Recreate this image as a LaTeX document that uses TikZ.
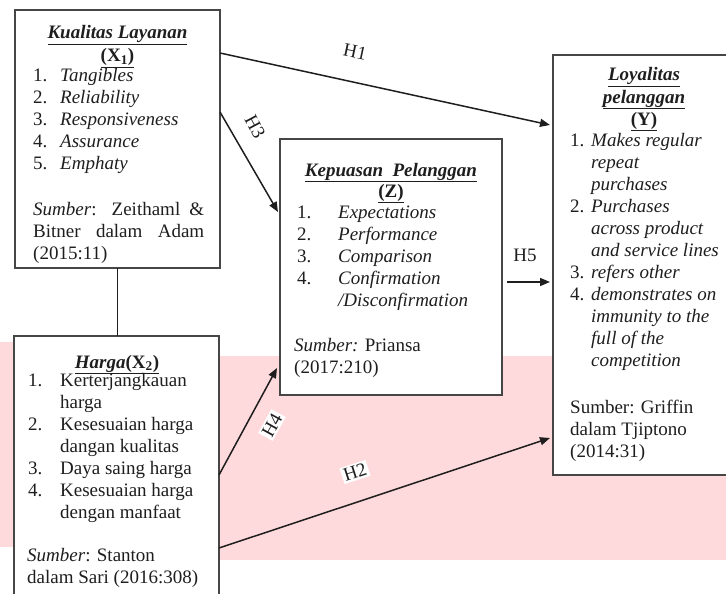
\documentclass[tikz,border=0pt]{standalone}
\usepackage{fontspec}
\setmainfont{Liberation Serif}
\usetikzlibrary{calc,arrows.meta}
\definecolor{pinkbg}{RGB}{255,218,221}
\definecolor{boxline}{RGB}{70,70,70}
\definecolor{ink}{RGB}{30,30,30}
\newcommand{\nm}[2]{\makebox[#1][l]{#2}}
\begin{document}
\begin{tikzpicture}[x=1pt,y=-1pt,
  box/.style={draw=boxline, fill=white, line width=1.4pt, inner sep=0pt, outer sep=0pt},
  txt/.style={font=\fontsize{19}{22}\selectfont, inner sep=0pt, text=ink, align=left, anchor=base west},
  ttl/.style={font=\fontsize{19}{22}\selectfont, inner sep=0pt, text=ink, anchor=base},
  conn/.style={line width=1.5pt, draw=ink, -{Triangle[length=10pt,width=8pt]}},
  plain/.style={line width=1.5pt, draw=ink},
  hlab/.style={font=\fontsize{19}{22}\selectfont, fill=white, inner sep=2pt, text=ink}]
\useasboundingbox (0,0) rectangle (726,594);
\clip (0,0) rectangle (726,594);
% pink background
\fill[pinkbg] (0,342) rectangle (14,547);
\fill[pinkbg] (219,356) rectangle (726,560);
% boxes
\node[box, minimum width=205pt, minimum height=258pt] (x1) at (117.5,139) {};
\node[box, minimum width=205pt, minimum height=264pt] (x2) at (116.5,468) {};
\node[box, minimum width=222pt, minimum height=256pt] (zbox) at (391,267) {};
\node[box, minimum width=187pt, minimum height=420pt] (ybox) at (646.5,265) {};
% X1 text (multi-line nodes are placed at the baseline of their last line)
\node[ttl] (x1t1) at (117.5,39) {\underline{\textbf{\textit{Kualitas Layanan}}}};
\node[ttl] (x1t2) at (117.5,62) {\underline{\textbf{(X\textsubscript{1})}}};
\node[txt] (x1l) at (33,169) {\nm{27pt}{1.}\textit{Tangibles}\\
\nm{27pt}{2.}\textit{Reliability}\\
\nm{27pt}{3.}\textit{Responsiveness}\\
\nm{27pt}{4.}\textit{Assurance}\\
\nm{27pt}{5.}\textit{Emphaty}};
\node[txt] (x1s) at (33,259) {\makebox[171pt][s]{\textit{Sumber}: Zeithaml \&}\\
\makebox[171pt][s]{Bitner dalam Adam}\\
(2015:11)};
% X2 text
\node[ttl] (x2t) at (117,368) {\underline{\textbf{\textit{Harga}(X\textsubscript{2})}}};
\node[txt] (x2l) at (28,518) {\nm{32pt}{1.}Kerterjangkauan\\
\nm{32pt}{}harga\\
\nm{32pt}{2.}Kesesuaian harga\\
\nm{32pt}{}dangan kualitas\\
\nm{32pt}{3.}Daya saing harga\\
\nm{32pt}{4.}Kesesuaian harga\\
\nm{32pt}{}dengan manfaat};
\node[txt] (x2s) at (27,583) {\textit{Sumber}: Stanton\\
dalam Sari (2016:308)};
% Z text
\node[ttl] (zt1) at (391,176) {\underline{\textbf{\textit{Kepuasan\ \ Pelanggan}}}};
\node[ttl] (zt2) at (391,197) {\underline{\textbf{(Z)}}};
\node[txt] (zl) at (297,306) {\nm{41pt}{1.}\textit{Expectations}\\
\nm{41pt}{2.}\textit{Performance}\\
\nm{41pt}{3.}\textit{Comparison}\\
\nm{41pt}{4.}\textit{Confirmation}\\
\nm{41pt}{}\textit{/Disconfirmation}};
\node[txt] (zs) at (294,373) {\textit{Sumber:} Priansa\\
(2017:210)};
% Y text
\node[ttl] (yt1) at (644,81) {\underline{\textbf{\textit{Loyalitas}}}};
\node[ttl] (yt2) at (644,103) {\underline{\textbf{\textit{pelanggan}}}};
\node[ttl] (yt3) at (644,125) {\underline{\textbf{(Y)}}};
\node[txt] (yl) at (570,366) {\nm{21pt}{1.}\textit{Makes regular}\\
\nm{21pt}{}\textit{repeat}\\
\nm{21pt}{}\textit{purchases}\\
\nm{21pt}{2.}\textit{Purchases}\\
\nm{21pt}{}\textit{across product}\\
\nm{21pt}{}\textit{and service lines}\\
\nm{21pt}{3.}\textit{refers other}\\
\nm{21pt}{4.}\textit{demonstrates on}\\
\nm{21pt}{}\textit{immunity to the}\\
\nm{21pt}{}\textit{full of the}\\
\nm{21pt}{}\textit{competition}};
\node[txt] (ys) at (570,457) {Sumber: Griffin\\
dalam Tjiptono\\
(2014:31)};
% connectors
\draw[plain] (x1.south) -- (x1.south |- x2.north);
\draw[conn] ($(x1.north east)+(0,43)$) -- ($(ybox.north west)+(-3,70)$);
\draw[conn] ($(x1.north east)+(0,102)$) -- ($(zbox.north west)+(-2,73)$);
\draw[conn] ($(x2.north east)+(0,139)$) -- ($(zbox.north west)+(-3,229)$);
\draw[conn] ($(x2.north east)+(0,212)$) -- ($(ybox.north west)+(-3,383)$);
\draw[conn] ($(zbox.north east)+(5,143)$) -- ($(ybox.north west)+(-3,227)$);
% labels
\node[hlab, rotate=-12] (h1) at (355,52) {H1};
\node[hlab, rotate=-62] (h3) at (255,127) {H3};
\node[hlab, rotate=61] (h4) at (272,425) {H4};
\node[hlab, rotate=18] (h2) at (355,472) {H2};
\node[hlab] (h5) at (525,255) {H5};
\end{tikzpicture}
\end{document}
